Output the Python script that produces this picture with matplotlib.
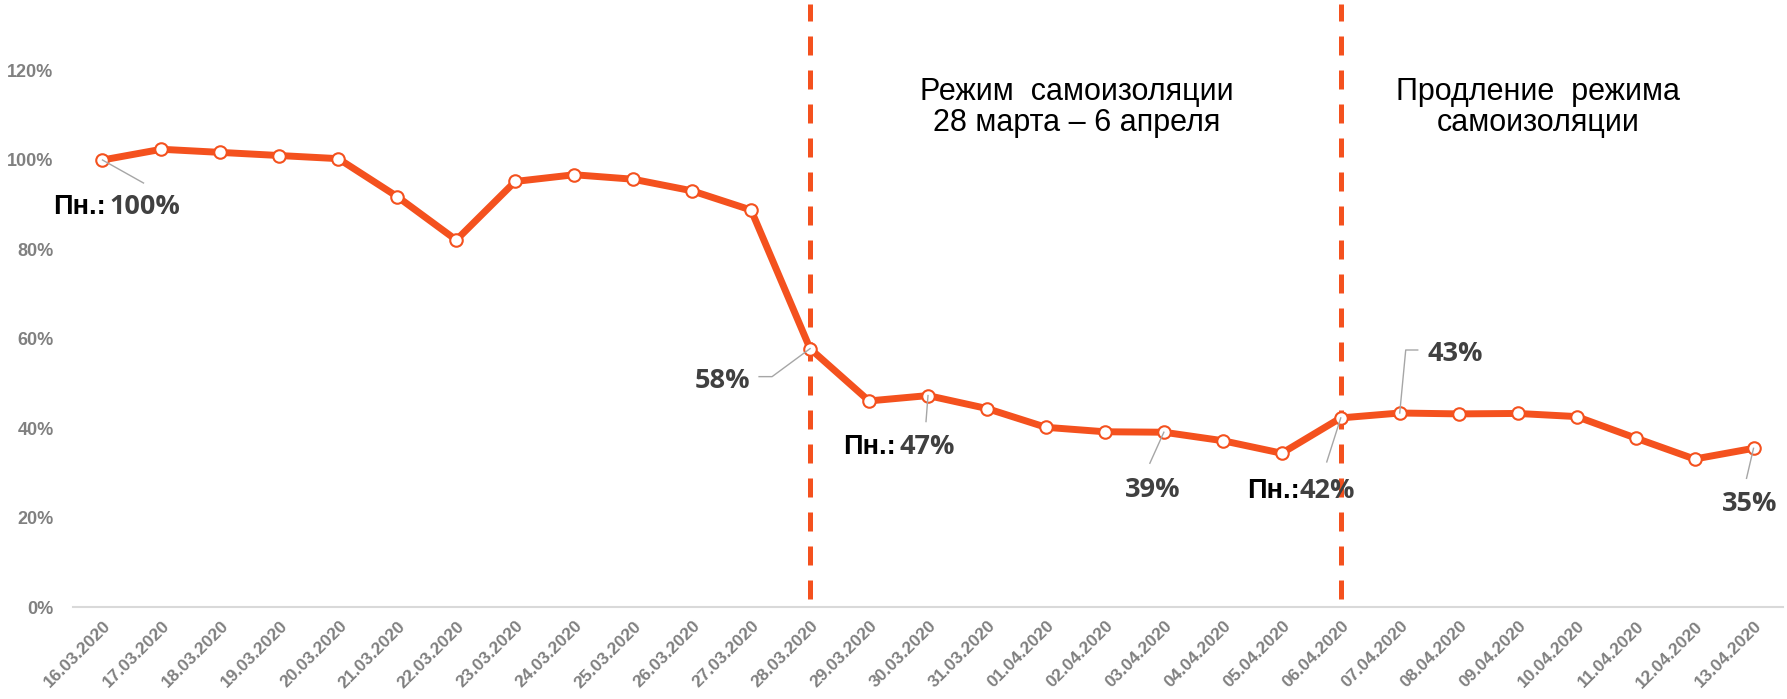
import matplotlib
matplotlib.use("Agg")
import matplotlib.pyplot as plt
import matplotlib.transforms as mtransforms

dates = ["16.03.2020", "17.03.2020", "18.03.2020", "19.03.2020", "20.03.2020",
         "21.03.2020", "22.03.2020", "23.03.2020", "24.03.2020", "25.03.2020",
         "26.03.2020", "27.03.2020", "28.03.2020", "29.03.2020", "30.03.2020",
         "31.03.2020", "01.04.2020", "02.04.2020", "03.04.2020", "04.04.2020",
         "05.04.2020", "06.04.2020", "07.04.2020", "08.04.2020", "09.04.2020",
         "10.04.2020", "11.04.2020", "12.04.2020", "13.04.2020"]
values = [100, 102.4, 101.7, 101.0, 100.3, 91.8, 82.1, 95.2, 96.7, 95.7,
          93.1, 88.8, 57.8, 46.1, 47.3, 44.4, 40.2, 39.2, 39.1, 37.2,
          34.4, 42.3, 43.4, 43.2, 43.3, 42.6, 37.8, 33.1, 35.5]
yticks = [0, 20, 40, 60, 80, 100, 120]
ytick_labels = ["0%", "20%", "40%", "60%", "80%", "100%", "120%"]
period_starts = ["28.03.2020", "06.04.2020"]
period_titles = [("Режим  самоизоляции", "28 марта – 6 апреля"),
                 ("Продление  режима", "самоизоляции")]
# labelled points: (date, prefix, text)
labels = [("16.03.2020", "Пн.:", "100%"),
          ("28.03.2020", "", "58%"),
          ("30.03.2020", "Пн.:", "47%"),
          ("03.04.2020", "", "39%"),
          ("06.04.2020", "Пн.:", "42%"),
          ("07.04.2020", "", "43%"),
          ("13.04.2020", "", "35%")]

ORANGE = "#F4511E"
GRAY_TICK = "#808080"
LABEL_NUM = "#404040"
LEADER = "#A6A6A6"

W, H = 1787, 699
fig = plt.figure(figsize=(W / 100, H / 100), dpi=100)
ax = fig.add_axes([73 / W, 92 / H, 1710 / W, 135 * 4.47 / H])

x = list(range(len(dates)))
ax.plot(x, values, color=ORANGE, lw=5.0, marker="o", markersize=9,
        markerfacecolor="white", markeredgecolor=ORANGE, markeredgewidth=1.5,
        zorder=4, solid_joinstyle="round")

ax.set_xlim(-0.5, len(dates) - 0.5)
ax.set_ylim(0, 135)

for s in ["top", "right", "left"]:
    ax.spines[s].set_visible(False)
ax.spines["bottom"].set_color("#D9D9D9")
ax.spines["bottom"].set_linewidth(1.5)
ax.tick_params(axis="both", length=0, labelcolor=GRAY_TICK)
ax.tick_params(axis="y", pad=14, labelsize=13)
ax.tick_params(axis="x", pad=12, labelsize=12.5)

ax.set_yticks(yticks)
ax.set_yticklabels(ytick_labels, fontfamily="Liberation Sans",
                   fontweight="bold", fontsize=13, color=GRAY_TICK)
ax.set_xticks(x)
ax.set_xticklabels(dates, rotation=45, ha="right", va="center",
                   rotation_mode="anchor", fontfamily="Liberation Sans",
                   fontweight="bold", fontsize=12.5, color=GRAY_TICK)
off = mtransforms.ScaledTranslation(6 / 100, 0, fig.dpi_scale_trans)
for t in ax.get_xticklabels():
    t.set_transform(t.get_transform() + off)

# vertical dashed period lines
for d in period_starts:
    xi = dates.index(d)
    ax.axvline(xi, ymin=1.8 / 135, ymax=1.0, color=ORANGE, lw=3.6,
               linestyle=(0, (3.8, 3.0)), zorder=2)

# titles centered (in category units)
title_x = [dates.index("28.03.2020") + 4.53, dates.index("06.04.2020") + 3.35]
for (l1, l2), tx in zip(period_titles, title_x):
    ax.text(tx, (607 - 92) / 4.47, l1, ha="center", va="center",
            fontsize=22, family="Liberation Sans", color="black")
    ax.text(tx, (607 - 123) / 4.47, l2, ha="center", va="center",
            fontsize=22, family="Liberation Sans", color="black")

# data labels: offsets in pixels relative to the point
# (text dx, text dy, ha, prefix dx, leader vertices)
label_layout = {
    "16.03.2020": (7, -47, "left", 3, [(0, 0), (41, -23)]),
    "28.03.2020": (-60, -32, "right", None, [(0, 0), (-38, -28), (-51, -28)]),
    "30.03.2020": (-28, -51, "left", -32, [(0, 0), (-2, -26)]),
    "03.04.2020": (-11, -58, "center", None, [(0, 0), (-14, -31)]),
    "06.04.2020": (-41, -73, "left", -41, [(0, 0), (-14, -44)]),
    "07.04.2020": (28, 59, "left", None, [(0, 0), (6, 63), (18, 63)]),
    "13.04.2020": (-4, -56, "center", None, [(0, 0), (-7, -30)]),
}

inv = ax.transData.inverted()
for d, prefix, txt in labels:
    i = dates.index(d)
    v = values[i]
    dx, dy, ha, pdx, leader = label_layout[d]
    ax.annotate(txt, xy=(i, v), xytext=(dx, dy), textcoords="offset pixels",
                ha=ha, va="center", fontsize=19.5, fontweight="bold",
                family="Open Sans", color=LABEL_NUM, zorder=6)
    if prefix:
        ax.annotate(prefix, xy=(i, v), xytext=(pdx, dy),
                    textcoords="offset pixels", ha="right", va="center",
                    fontsize=19.5, fontweight="bold", family="Liberation Sans",
                    color="black", zorder=6)
    px, py = ax.transData.transform((i, v))
    pts = [inv.transform((px + ox, py + oy)) for ox, oy in leader]
    ax.plot([p[0] for p in pts], [p[1] for p in pts], color=LEADER, lw=1.0,
            zorder=5, clip_on=False)

fig.savefig("out.png", dpi=100)
